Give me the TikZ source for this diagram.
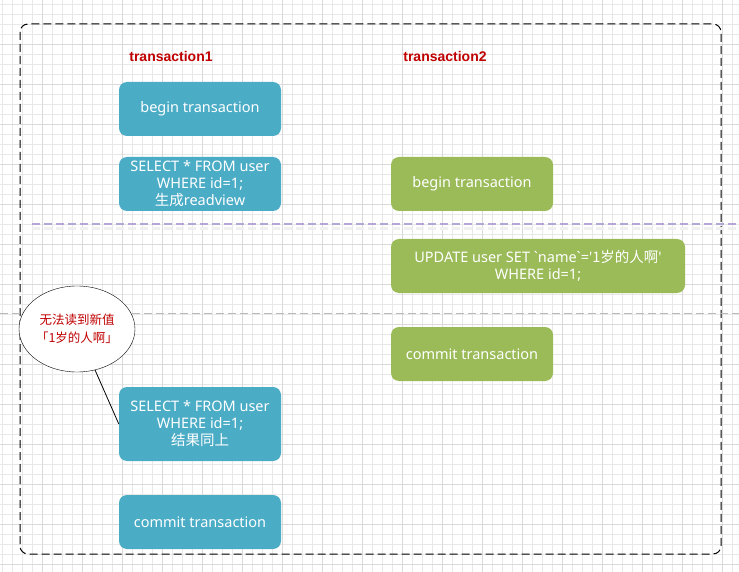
\documentclass[tikz,border=0pt]{standalone}
\usepackage{fontspec}
\usepackage{tikz}
\usetikzlibrary{shapes.geometric}
\setmainfont{Noto Sans}
\newfontfamily\cjk{Noto Sans CJK SC}
\newfontfamily\titlefont{Liberation Sans}
\definecolor{txblue}{HTML}{4BACC6}
\definecolor{txgreen}{HTML}{9BBB59}
\definecolor{txred}{HTML}{C00000}
\definecolor{sepviolet}{HTML}{B4A7D6}

\begin{document}
\begin{tikzpicture}[x=1pt,y=-1pt,
  tx1box/.style={fill=txblue,text=white,rounded corners=8pt,minimum width=162pt,minimum height=54pt,align=center,font=\fontsize{14.5}{17}\selectfont},
  tx2box/.style={fill=txgreen,text=white,rounded corners=8pt,minimum width=162pt,minimum height=54pt,align=center,font=\fontsize{14.5}{17}\selectfont},
  txlabel/.style={text=txred,font=\titlefont\fontsize{14}{16}\selectfont\bfseries}]
\useasboundingbox (0,0) rectangle (739,572);
\fill[white] (0,0) rectangle (739,572);
% grid paper
\foreach \x in {2,12,...,739} \draw[gray!18,line width=0.8pt] (\x,0) -- (\x,572);
\foreach \y in {4,14,...,572} \draw[gray!18,line width=0.8pt] (0,\y) -- (739,\y);
\foreach \x in {42,82,...,739} \draw[gray!30,line width=0.8pt] (\x,0) -- (\x,572);
\foreach \y in {44,84,...,572} \draw[gray!30,line width=0.8pt] (0,\y) -- (739,\y);
% frame
\draw[black,line width=1pt,dash pattern=on 8pt off 4pt,rounded corners=8pt] (20,24) rectangle (721,554);
% separators
\draw[gray!12,line width=2.5pt,dash pattern=on 8pt off 4pt] (32,228.5) -- (739,228.5);
\draw[sepviolet,line width=1.2pt,dash pattern=on 8pt off 4pt] (32,224) -- (739,224);
\draw[gray!55,line width=1pt,dash pattern=on 8pt off 4pt] (0,313) -- (739,313);
% titles
\node[txlabel] (t1) at (171,56) {transaction1};
\node[txlabel] (t2) at (445,56) {transaction2};
% transaction1
\node[tx1box] (begin1) at (200,109) {begin transaction};
\node[tx1box] (sel1) at (200,184) {SELECT * FROM user\\WHERE id=1;\\{\cjk 生成}readview};
\node[tx1box,minimum height=74pt] (sel2) at (200,424) {SELECT * FROM user\\WHERE id=1;\\{\cjk 结果同上}};
\node[tx1box] (commit1) at (200,522) {commit transaction};
% transaction2
\node[tx2box] (begin2) at (472,184) {begin transaction};
\node[tx2box,minimum width=294pt] (upd) at (538,266) {UPDATE user SET \textasciigrave name\textasciigrave =\textquotesingle{\cjk 1岁的人啊}\textquotesingle\\WHERE id=1;};
\node[tx2box] (commit2) at (472,354) {commit transaction};
% callout
\node[ellipse,draw=black,fill=white,minimum width=116pt,minimum height=86pt,inner sep=0pt,align=center,text=txred,font=\cjk\fontsize{12.5}{18}\selectfont] (note) at (77,329) {无法读到新值\\「1岁的人啊」};
\draw[black,line width=0.8pt] (sel2.west) -- (note);
\end{tikzpicture}
\end{document}
